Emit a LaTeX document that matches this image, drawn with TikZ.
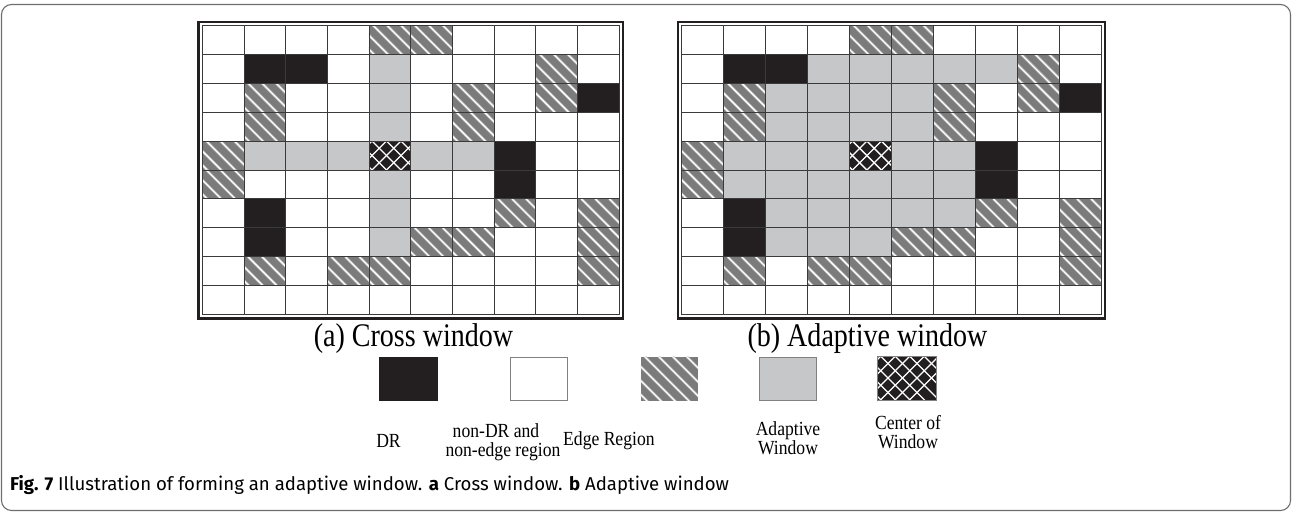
\documentclass[tikz,border=0pt]{standalone}
\usepackage{fontspec}
\setmainfont{Liberation Serif}
\newfontfamily\capfont{Fira Sans}
\newfontfamily\tnr[FakeStretch=0.85]{Liberation Serif}
\newfontfamily\tnrl[FakeStretch=0.88]{Liberation Serif}
\usetikzlibrary{calc}
\definecolor{drc}{HTML}{231F20}
\definecolor{gwin}{HTML}{C6C7C9}
\definecolor{edg}{HTML}{7B7B7B}
\definecolor{edgh}{HTML}{B8B8B8}
\definecolor{gridc}{HTML}{3A3A3A}
\definecolor{framec}{HTML}{6E6E6E}
\newcommand{\ch}{28.93}
\tikzset{
  lbl/.style={inner sep=0pt, font=\tnrl\fontsize{20}{20}\selectfont},
  sub/.style={anchor=base, inner sep=0pt, font=\tnr\fontsize{33}{33}\selectfont}
}
% edge (hatched) rectangle: #1 = x, #2 = y, #3 = w, #4 = h
\newcommand{\hatchbox}[4]{%
  \begin{scope}
    \clip (#1,#2) rectangle ++(#3,#4);
    \fill[edg] (#1,#2) rectangle ++(#3,#4);
    \foreach \k in {-5,...,5}{
      \draw[edgh, line width=2.6pt] ({#1+\k*14+4},{#2}) -- ++(#4+2,#4+2);
      \draw[white, line width=1.1pt] ({#1+\k*14+4},{#2}) -- ++(#4+2,#4+2);
    }
  \end{scope}}
% center-of-window rectangle
\newcommand{\crossbox}[4]{%
  \begin{scope}
    \clip (#1,#2) rectangle ++(#3,#4);
    \fill[drc] (#1,#2) rectangle ++(#3,#4);
    \foreach \k in {-5,...,5}{
      \draw[white, line width=1.3pt] ({#1+\k*14.5+3},{#2}) -- ++(#4+2,#4+2);
      \draw[white, line width=1.3pt] ({#1+\k*14.5+3},{#2}) -- ++(-#4-2,#4+2);
    }
  \end{scope}}
% grid: #1 x0, #2 y0, #3 cell width, #4 list of gray cells r/c
\newcommand{\drawgrid}[4]{%
  \foreach \r/\c in {1/1,1/2,2/9,4/7,5/7,6/1,7/1}
    \fill[drc] ({#1+\c*#3},{#2+\r*\ch}) rectangle ++(#3,\ch);
  \foreach \r/\c in {#4}
    \fill[gwin] ({#1+\c*#3},{#2+\r*\ch}) rectangle ++(#3,\ch);
  \foreach \r/\c in {0/4,0/5,1/8,2/1,2/6,2/8,3/1,3/6,4/0,5/0,6/7,6/9,7/5,7/6,7/9,8/1,8/3,8/4,8/9}
    {\hatchbox{#1+\c*#3}{#2+\r*\ch}{#3}{\ch}}
  \crossbox{#1+4*#3}{#2+4*\ch}{#3}{\ch}
  \foreach \i in {0,...,10}{
    \draw[gridc, line width=0.9pt] ({#1+\i*#3},{#2}) -- ++(0,10*\ch);
    \draw[gridc, line width=0.9pt] ({#1},{#2+\i*\ch}) -- ++(10*#3,0);
  }
  \draw[drc, line width=2.4pt] ({#1-4},{#2-3.5}) rectangle ({#1+10*#3+4},{#2+10*\ch+4});
}
\begin{document}
\begin{tikzpicture}[x=1pt,y=-1pt]
\useasboundingbox (0,0) rectangle (1292,512);
\fill[white] (0,0) rectangle (1292,512);
% outer rounded frame
\draw[framec, line width=1.1pt, rounded corners=10pt] (1.5,4.5) rectangle (1290.5,510.5);

% ---------- grids ----------
\drawgrid{202.3}{25.3}{41.67}{1/4,2/4,3/4,4/1,4/2,4/3,4/5,4/6,5/4,6/4,7/4}
\drawgrid{681.7}{25.3}{41.93}{1/3,1/4,1/5,1/6,1/7,2/2,2/3,2/4,2/5,3/2,3/3,3/4,3/5,4/1,4/2,4/3,4/5,4/6,5/1,5/2,5/3,5/4,5/5,5/6,6/2,6/3,6/4,6/5,6/6,7/2,7/3,7/4}

% ---------- sub-captions ----------
\node[sub] (capa) at (413.5,346) {(a) Cross window};
\node[sub] (capb) at (867.5,346) {(b) Adaptive window};

% ---------- legend ----------
\fill[drc] (379.4,356.7) rectangle (437.8,400.5);
\draw[gray, line width=0.8pt, fill=white] (509.9,356.9) rectangle (567.6,400.3);
\hatchbox{640.8}{356.7}{57}{43.8}
\draw[gray, line width=0.8pt, fill=gwin] (759.5,356.9) rectangle (816.6,400.3);
\crossbox{877.7}{356.2}{58.4}{43.8}
\draw[gray, line width=0.6pt] (877.7,356.2) rectangle (936.1,400);

\node[lbl, anchor=base] (ldr) at (388.5,447) {DR};
\node[lbl, anchor=base] (lnon1) at (496,437) {non-DR and};
\node[lbl, anchor=base] (lnon2) at (503,456) {non-edge region};
\node[lbl, anchor=base west] (ledge) at (563,445) {Edge Region};
\node[lbl, anchor=base] (lad1) at (788,435) {Adaptive};
\node[lbl, anchor=base] (lad2) at (788,454) {Window};
\node[lbl, anchor=base] (lc1) at (908,429) {Center of};
\node[lbl, anchor=base] (lc2) at (908,448) {Window};

% ---------- figure caption ----------
\node[anchor=base west, inner sep=0pt, font=\capfont\fontsize{18.6}{18.6}\selectfont] (figcap) at (10,490)
  {\textbf{Fig. 7} Illustration of forming an adaptive window. \textbf{a} Cross window. \textbf{b} Adaptive window};
\end{tikzpicture}
\end{document}
